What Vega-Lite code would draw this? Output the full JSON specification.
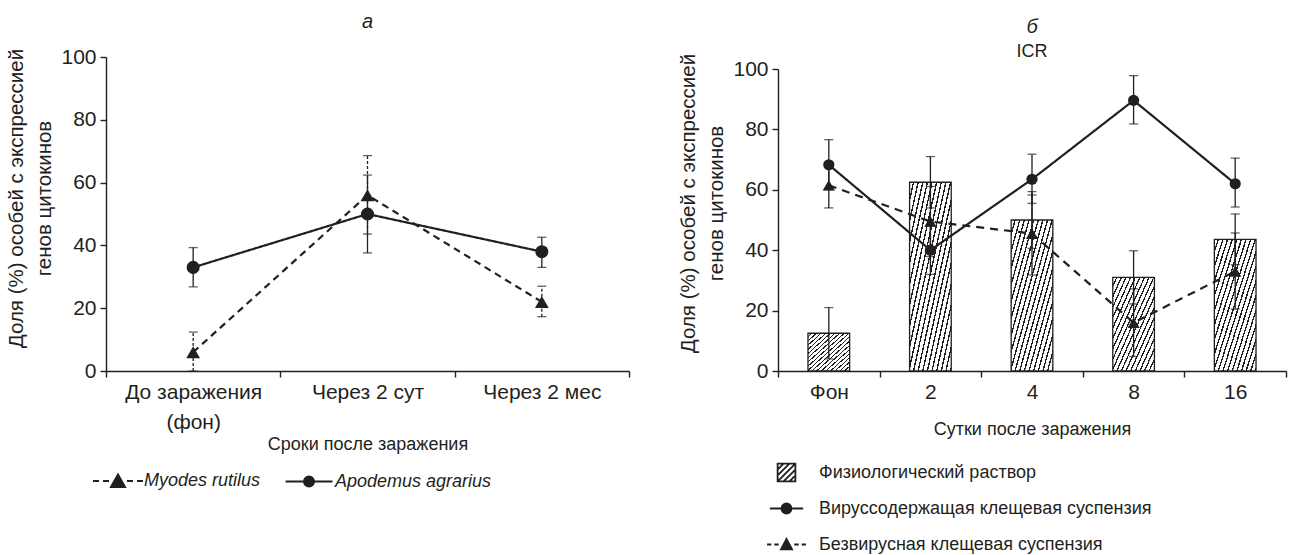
{
  "$schema": "https://vega.github.io/schema/vega-lite/v6.json",
  "padding": {"left": 6, "top": 12, "right": 5, "bottom": 0},
  "spacing": 48,
  "columns": 2,
  "align": "none",
  "datasets": {
    "left": [
      {"t": "До заражения (фон)", "series": "Myodes rutilus", "v": 6, "lo": 0, "hi": 12.4},
      {"t": "Через 2 сут", "series": "Myodes rutilus", "v": 56, "lo": 43.6, "hi": 68.6},
      {"t": "Через 2 мес", "series": "Myodes rutilus", "v": 22, "lo": 17.3, "hi": 27},
      {"t": "До заражения (фон)", "series": "Apodemus agrarius", "v": 33, "lo": 26.8, "hi": 39.3},
      {"t": "Через 2 сут", "series": "Apodemus agrarius", "v": 50, "lo": 37.6, "hi": 62.4},
      {"t": "Через 2 мес", "series": "Apodemus agrarius", "v": 38, "lo": 33, "hi": 42.6}
    ],
    "rightBars": [
      {"t": "Фон", "series": "Физиологический раствор", "v": 12.5, "lo": 4, "hi": 21},
      {"t": "2", "series": "Физиологический раствор", "v": 62.5, "lo": 54, "hi": 71},
      {"t": "4", "series": "Физиологический раствор", "v": 50, "lo": 40.6, "hi": 59.4},
      {"t": "8", "series": "Физиологический раствор", "v": 31, "lo": 22.2, "hi": 39.8},
      {"t": "16", "series": "Физиологический раствор", "v": 43.6, "lo": 35.2, "hi": 52}
    ],
    "rightLines": [
      {"t": "Фон", "series": "Вируссодержащая клещевая суспензия", "v": 68.3, "lo": 60, "hi": 76.6},
      {"t": "2", "series": "Вируссодержащая клещевая суспензия", "v": 40, "lo": 32, "hi": 48},
      {"t": "4", "series": "Вируссодержащая клещевая суспензия", "v": 63.5, "lo": 55.5, "hi": 71.8},
      {"t": "8", "series": "Вируссодержащая клещевая суспензия", "v": 89.6, "lo": 81.8, "hi": 97.8},
      {"t": "16", "series": "Вируссодержащая клещевая суспензия", "v": 62, "lo": 54.3, "hi": 70.5},
      {"t": "Фон", "series": "Безвирусная клещевая суспензия", "v": 61.5, "lo": 54, "hi": 69},
      {"t": "2", "series": "Безвирусная клещевая суспензия", "v": 49.5, "lo": 37.9, "hi": 61.1},
      {"t": "4", "series": "Безвирусная клещевая суспензия", "v": 45.5, "lo": 31.8, "hi": 58.3},
      {"t": "8", "series": "Безвирусная клещевая суспензия", "v": 16, "lo": 4.8, "hi": 27.2},
      {"t": "16", "series": "Безвирусная клещевая суспензия", "v": 33, "lo": 20.5, "hi": 45.7}
    ]
  },
  "concat": [
    {
      "width": 523,
      "height": 314,
      "title": {"text": "а", "fontStyle": "italic", "fontWeight": "normal", "fontSize": 20, "frame": "group", "anchor": "middle", "offset": 14},
      "data": {"name": "left"},
      "encoding": {
        "x": {"field": "t", "type": "nominal", "title": "Сроки после заражения",
          "scale": {"domain": ["До заражения (фон)", "Через 2 сут", "Через 2 мес"], "paddingInner": 0, "paddingOuter": 0},
          "axis": {"labelAngle": 0, "tickBand": "extent", "labelLineHeight": 30, "titlePadding": 3,
            "labelExpr": "datum.value == 'До заражения (фон)' ? ['До заражения', '(фон)'] : datum.label"}},
        "y": {"field": "v", "type": "quantitative", "title": ["Доля (%) особей с экспрессией", "генов цитокинов"],
          "scale": {"domain": [0, 100], "nice": false},
          "axis": {"values": [0, 20, 40, 60, 80, 100], "titlePadding": 6, "titleLineHeight": 28, "titleFontSize": 20.5, "titleY": 141}}
      },
      "layer": [
        {
          "mark": {"type": "line", "strokeWidth": 2.2, "color": "#231f20"},
          "encoding": {
            "detail": {"field": "series"},
            "strokeDash": {"condition": {"test": "datum.series === 'Myodes rutilus'", "value": [7, 5]}, "value": [1, 0]}
          }
        },
        {
          "mark": {"type": "rule", "strokeWidth": 1.3, "color": "#231f20"},
          "encoding": {
            "y": {"field": "lo", "type": "quantitative", "title": ["Доля (%) особей с экспрессией", "генов цитокинов"]},
            "y2": {"field": "hi"},
            "strokeDash": {"condition": {"test": "datum.series === 'Myodes rutilus'", "value": [3, 2]}, "value": [1, 0]}
          }
        },
        {
          "transform": [{"fold": ["lo", "hi"], "as": ["end", "ev"]}],
          "mark": {"type": "tick", "size": 9, "thickness": 1.3, "color": "#231f20"},
          "encoding": {
            "y": {"field": "ev", "type": "quantitative", "title": ["Доля (%) особей с экспрессией", "генов цитокинов"]}
          }
        },
        {
          "mark": {"type": "point", "filled": true, "opacity": 1, "color": "#231f20"},
          "encoding": {
            "shape": {"condition": {"test": "datum.series === 'Myodes rutilus'", "value": "triangle-up"}, "value": "circle"},
            "size": {"condition": {"test": "datum.series === 'Myodes rutilus'", "value": 190}, "value": 170}
          }
        },
        {
          "transform": [{"filter": "datum.v < -1"}],
          "mark": {"type": "point", "filled": true, "opacity": 1, "strokeWidth": 2},
          "encoding": {
            "shape": {"field": "series", "type": "nominal",
              "scale": {"domain": ["Myodes rutilus", "Apodemus agrarius"],
                "range": ["M-1,0H-0.76M-0.6,0H-0.36M0.36,0H0.6M0.76,0H1M-0.28,0.24L0,-0.26L0.28,0.24Z",
                          "M-0.94,0H0.94M-0.2,0A0.2,0.2 0 1,1 0.2,0A0.2,0.2 0 1,1 -0.2,0Z"]},
              "legend": {"title": null, "orient": "none", "legendX": -14, "legendY": 398, "direction": "horizontal", "symbolSize": 2500, "symbolStrokeWidth": 2, "symbolOpacity": 1, "labelFontSize": 18, "labelFontStyle": "italic", "labelOffset": 0, "columnPadding": 20, "labelLimit": 500}},
            "fill": {"field": "series", "type": "nominal",
              "scale": {"domain": ["Myodes rutilus", "Apodemus agrarius"], "range": ["#231f20", "#231f20"]},
              "legend": {"title": null, "orient": "none", "legendX": -14, "legendY": 398, "direction": "horizontal", "symbolSize": 2500, "symbolStrokeWidth": 2, "symbolOpacity": 1, "labelFontSize": 18, "labelFontStyle": "italic", "labelOffset": 0, "columnPadding": 20, "labelLimit": 500}},
            "stroke": {"field": "series", "type": "nominal",
              "scale": {"domain": ["Myodes rutilus", "Apodemus agrarius"], "range": ["#231f20", "#231f20"]},
              "legend": {"title": null, "orient": "none", "legendX": -14, "legendY": 398, "direction": "horizontal", "symbolSize": 2500, "symbolStrokeWidth": 2, "symbolOpacity": 1, "labelFontSize": 18, "labelFontStyle": "italic", "labelOffset": 0, "columnPadding": 20, "labelLimit": 500}}
          }
        }
      ]
    },
    {
      "width": 508,
      "height": 314,
      "title": {"text": "б", "subtitle": "ICR", "fontStyle": "italic", "fontWeight": "normal", "fontSize": 20, "subtitleFontSize": 18, "subtitlePadding": 6, "frame": "group", "anchor": "middle", "offset": -8},
      "encoding": {
        "x": {"field": "t", "type": "nominal", "title": "Сутки после заражения",
          "scale": {"domain": ["Фон", "2", "4", "8", "16"], "paddingInner": 0, "paddingOuter": 0},
          "axis": {"labelAngle": 0, "tickBand": "extent", "titlePadding": 18}},
        "y": {"field": "v", "type": "quantitative", "title": ["Доля (%) особей с экспрессией", "генов цитокинов"],
          "scale": {"domain": [0, 100], "nice": false, "range": [314, 12]},
          "axis": {"values": [0, 20, 40, 60, 80, 100], "titlePadding": 6, "titleLineHeight": 28, "titleFontSize": 20.5, "titleY": 146}}
      },
      "layer": [
        {
          "data": {"name": "rightBars"},
          "mark": {"type": "bar", "stroke": "#231f20", "strokeWidth": 1.3, "width": {"band": 0.41},
            "fill": {"gradient": "linear", "x1": 0, "y1": 0, "x2": 1, "y2": 1, "stops": [
              {"offset": 0, "color": "#fff"}, {"offset": 0.0389, "color": "#fff"}, {"offset": 0.0389, "color": "#231f20"}, {"offset": 0.0556, "color": "#231f20"},
              {"offset": 0.0556, "color": "#fff"}, {"offset": 0.0944, "color": "#fff"}, {"offset": 0.0944, "color": "#231f20"}, {"offset": 0.1111, "color": "#231f20"},
              {"offset": 0.1111, "color": "#fff"}, {"offset": 0.15, "color": "#fff"}, {"offset": 0.15, "color": "#231f20"}, {"offset": 0.1667, "color": "#231f20"},
              {"offset": 0.1667, "color": "#fff"}, {"offset": 0.2056, "color": "#fff"}, {"offset": 0.2056, "color": "#231f20"}, {"offset": 0.2222, "color": "#231f20"},
              {"offset": 0.2222, "color": "#fff"}, {"offset": 0.2611, "color": "#fff"}, {"offset": 0.2611, "color": "#231f20"}, {"offset": 0.2778, "color": "#231f20"},
              {"offset": 0.2778, "color": "#fff"}, {"offset": 0.3167, "color": "#fff"}, {"offset": 0.3167, "color": "#231f20"}, {"offset": 0.3333, "color": "#231f20"},
              {"offset": 0.3333, "color": "#fff"}, {"offset": 0.3722, "color": "#fff"}, {"offset": 0.3722, "color": "#231f20"}, {"offset": 0.3889, "color": "#231f20"},
              {"offset": 0.3889, "color": "#fff"}, {"offset": 0.4278, "color": "#fff"}, {"offset": 0.4278, "color": "#231f20"}, {"offset": 0.4444, "color": "#231f20"},
              {"offset": 0.4444, "color": "#fff"}, {"offset": 0.4833, "color": "#fff"}, {"offset": 0.4833, "color": "#231f20"}, {"offset": 0.5, "color": "#231f20"},
              {"offset": 0.5, "color": "#fff"}, {"offset": 0.5389, "color": "#fff"}, {"offset": 0.5389, "color": "#231f20"}, {"offset": 0.5556, "color": "#231f20"},
              {"offset": 0.5556, "color": "#fff"}, {"offset": 0.5944, "color": "#fff"}, {"offset": 0.5944, "color": "#231f20"}, {"offset": 0.6111, "color": "#231f20"},
              {"offset": 0.6111, "color": "#fff"}, {"offset": 0.65, "color": "#fff"}, {"offset": 0.65, "color": "#231f20"}, {"offset": 0.6667, "color": "#231f20"},
              {"offset": 0.6667, "color": "#fff"}, {"offset": 0.7056, "color": "#fff"}, {"offset": 0.7056, "color": "#231f20"}, {"offset": 0.7222, "color": "#231f20"},
              {"offset": 0.7222, "color": "#fff"}, {"offset": 0.7611, "color": "#fff"}, {"offset": 0.7611, "color": "#231f20"}, {"offset": 0.7778, "color": "#231f20"},
              {"offset": 0.7778, "color": "#fff"}, {"offset": 0.8167, "color": "#fff"}, {"offset": 0.8167, "color": "#231f20"}, {"offset": 0.8333, "color": "#231f20"},
              {"offset": 0.8333, "color": "#fff"}, {"offset": 0.8722, "color": "#fff"}, {"offset": 0.8722, "color": "#231f20"}, {"offset": 0.8889, "color": "#231f20"},
              {"offset": 0.8889, "color": "#fff"}, {"offset": 0.9278, "color": "#fff"}, {"offset": 0.9278, "color": "#231f20"}, {"offset": 0.9444, "color": "#231f20"},
              {"offset": 0.9444, "color": "#fff"}, {"offset": 0.9833, "color": "#fff"}, {"offset": 0.9833, "color": "#231f20"}, {"offset": 1, "color": "#231f20"}
            ]}},
          "encoding": {}
        },
        {
          "data": {"name": "rightBars"},
          "mark": {"type": "rule", "strokeWidth": 1.3, "color": "#231f20"},
          "encoding": {
            "y": {"field": "lo", "type": "quantitative", "title": ["Доля (%) особей с экспрессией", "генов цитокинов"]},
            "y2": {"field": "hi"}
          }
        },
        {
          "data": {"name": "rightBars"},
          "transform": [{"fold": ["lo", "hi"], "as": ["end", "ev"]}],
          "mark": {"type": "tick", "size": 9, "thickness": 1.3, "color": "#231f20"},
          "encoding": {
            "y": {"field": "ev", "type": "quantitative", "title": ["Доля (%) особей с экспрессией", "генов цитокинов"]}
          }
        },
        {
          "data": {"name": "rightLines"},
          "mark": {"type": "line", "strokeWidth": 2.2, "color": "#231f20"},
          "encoding": {
            "detail": {"field": "series"},
            "strokeDash": {"condition": {"test": "datum.series === 'Безвирусная клещевая суспензия'", "value": [8, 6]}, "value": [1, 0]}
          }
        },
        {
          "data": {"name": "rightLines"},
          "mark": {"type": "rule", "strokeWidth": 1.3, "color": "#231f20"},
          "encoding": {
            "y": {"field": "lo", "type": "quantitative", "title": ["Доля (%) особей с экспрессией", "генов цитокинов"]},
            "y2": {"field": "hi"}
          }
        },
        {
          "data": {"name": "rightLines"},
          "transform": [{"fold": ["lo", "hi"], "as": ["end", "ev"]}],
          "mark": {"type": "tick", "size": 9, "thickness": 1.3, "color": "#231f20"},
          "encoding": {
            "y": {"field": "ev", "type": "quantitative", "title": ["Доля (%) особей с экспрессией", "генов цитокинов"]}
          }
        },
        {
          "data": {"name": "rightLines"},
          "mark": {"type": "point", "filled": true, "opacity": 1, "color": "#231f20"},
          "encoding": {
            "shape": {"condition": {"test": "datum.series === 'Безвирусная клещевая суспензия'", "value": "triangle-up"}, "value": "circle"},
            "size": {"condition": {"test": "datum.series === 'Безвирусная клещевая суспензия'", "value": 150}, "value": 125}
          }
        },
        {
          "data": {"name": "rightLines"},
          "transform": [{"filter": "datum.v < -1"}],
          "mark": {"type": "point", "filled": true, "opacity": 1, "strokeWidth": 1.8},
          "encoding": {
            "shape": {"field": "series", "type": "nominal",
              "scale": {"domain": ["Физиологический раствор", "Вируссодержащая клещевая суспензия", "Безвирусная клещевая суспензия"],
                "range": ["M-0.48,-0.48H0.48V0.48H-0.48ZM-0.48,-0.16L-0.16,-0.48M-0.48,0.16L0.16,-0.48M-0.48,0.48L0.48,-0.48M-0.16,0.48L0.48,-0.16M0.16,0.48L0.48,0.16",
                          "M-0.9,0H0.9M-0.27,0A0.27,0.27 0 1,1 0.27,0A0.27,0.27 0 1,1 -0.27,0ZM0,-0.48M0,0.48",
                          "M-1.05,0H-0.82M-0.66,0H-0.42M0.42,0H0.66M0.82,0H1.05M-0.3,0.26L0,-0.3L0.3,0.26ZM0,-0.48M0,0.48"]},
              "legend": {"title": null, "orient": "none", "legendX": -11, "legendY": 396, "direction": "vertical", "symbolSize": 1369, "symbolStrokeWidth": 1.8, "symbolOpacity": 1, "labelFontSize": 18, "labelOffset": 13, "rowPadding": 4, "labelLimit": 600}},
            "fill": {"field": "series", "type": "nominal",
              "scale": {"domain": ["Физиологический раствор", "Вируссодержащая клещевая суспензия", "Безвирусная клещевая суспензия"], "range": ["#ffffff", "#231f20", "#231f20"]},
              "legend": {"title": null, "orient": "none", "legendX": -11, "legendY": 396, "direction": "vertical", "symbolSize": 1369, "symbolStrokeWidth": 1.8, "symbolOpacity": 1, "labelFontSize": 18, "labelOffset": 13, "rowPadding": 4, "labelLimit": 600}},
            "stroke": {"field": "series", "type": "nominal",
              "scale": {"domain": ["Физиологический раствор", "Вируссодержащая клещевая суспензия", "Безвирусная клещевая суспензия"], "range": ["#231f20", "#231f20", "#231f20"]},
              "legend": {"title": null, "orient": "none", "legendX": -11, "legendY": 396, "direction": "vertical", "symbolSize": 1369, "symbolStrokeWidth": 1.8, "symbolOpacity": 1, "labelFontSize": 18, "labelOffset": 13, "rowPadding": 4, "labelLimit": 600}}
          }
        }
      ]
    }
  ],
  "resolve": {
    "scale": {"x": "independent", "y": "independent", "shape": "independent", "fill": "independent", "stroke": "independent"},
    "legend": {"shape": "independent", "fill": "independent", "stroke": "independent"}
  },
  "config": {
    "view": {"stroke": null},
    "font": "Liberation Sans",
    "axis": {"domainColor": "#231f20", "domainWidth": 1.4, "tickColor": "#231f20", "tickWidth": 1.4, "tickSize": 6,
      "labelColor": "#231f20", "titleColor": "#231f20", "labelFontSize": 21, "titleFontSize": 18, "titleFontWeight": "normal",
      "grid": false, "labelPadding": 4},
    "title": {"color": "#231f20", "subtitleColor": "#231f20", "subtitleFont": "Liberation Sans"},
    "legend": {"labelColor": "#231f20", "labelFont": "Liberation Sans"}
  }
}
